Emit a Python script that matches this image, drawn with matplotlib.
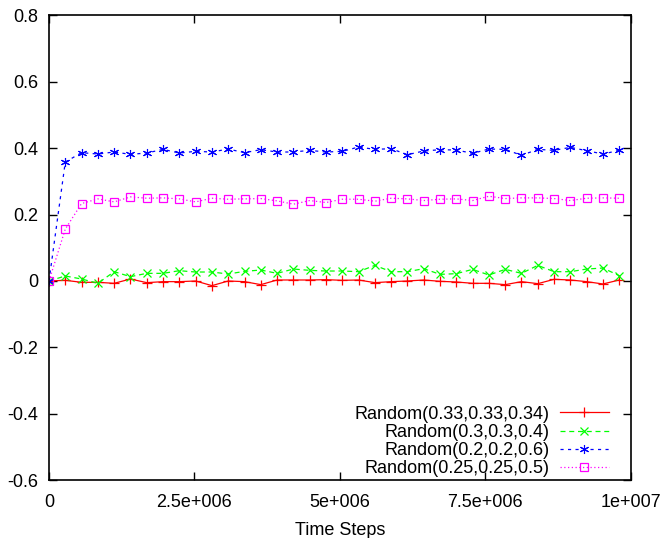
import matplotlib
matplotlib.use('Agg')
import matplotlib.pyplot as plt
from matplotlib.ticker import FixedLocator

plt.rcParams['font.family'] = ['Liberation Sans', 'DejaVu Sans']

# sample steps (one point every 280000 steps)
steps = [i * 280000 for i in range(36)]

r_033 = [0.0, 0.002, -0.004, -0.004, -0.007, 0.006, -0.005, -0.002, -0.002, 0.0,
         -0.014, 0.0, -0.002, -0.011, 0.003, 0.003, 0.003, 0.004, 0.002, 0.003,
         -0.005, -0.002, 0.0, 0.003, -0.001, -0.003, -0.007, -0.007, -0.011, -0.002,
         -0.008, 0.005, 0.003, -0.002, -0.009, 0.003]
r_03 = [0.0, 0.015, 0.006, -0.007, 0.028, 0.013, 0.023, 0.023, 0.031, 0.027,
        0.027, 0.021, 0.029, 0.033, 0.023, 0.036, 0.032, 0.030, 0.030, 0.028,
        0.047, 0.028, 0.028, 0.037, 0.020, 0.022, 0.035, 0.018, 0.035, 0.023,
        0.047, 0.028, 0.028, 0.036, 0.039, 0.016]
r_02 = [0.0, 0.358, 0.386, 0.382, 0.388, 0.381, 0.385, 0.396, 0.385, 0.390,
        0.388, 0.397, 0.386, 0.395, 0.388, 0.388, 0.393, 0.388, 0.390, 0.403,
        0.396, 0.398, 0.380, 0.391, 0.395, 0.394, 0.384, 0.397, 0.396, 0.378,
        0.396, 0.393, 0.402, 0.392, 0.382, 0.393]
r_025 = [0.0, 0.156, 0.233, 0.247, 0.238, 0.253, 0.249, 0.250, 0.247, 0.238,
         0.249, 0.246, 0.247, 0.248, 0.241, 0.231, 0.242, 0.236, 0.246, 0.246,
         0.240, 0.249, 0.247, 0.242, 0.246, 0.247, 0.242, 0.255, 0.248, 0.250,
         0.250, 0.248, 0.242, 0.249, 0.250, 0.249]

labels = ['Random(0.33,0.33,0.34)', 'Random(0.3,0.3,0.4)',
          'Random(0.2,0.2,0.6)', 'Random(0.25,0.25,0.5)']
xticks = [0, 2.5e6, 5e6, 7.5e6, 1e7]
xticklabels = ['0', '2.5e+006', '5e+006', '7.5e+006', '1e+007']
yticks = [-0.6, -0.4, -0.2, 0, 0.2, 0.4, 0.6, 0.8]
yticklabels = ['-0.6', '-0.4', '-0.2', '0', '0.2', '0.4', '0.6', '0.8']

fig = plt.figure(figsize=(6.62, 5.38), dpi=100)
ax = fig.add_axes([0.074, 0.107, 0.879, 0.865])

ax.plot(steps, r_033, color='#ff0000', ls='-', lw=0.9, marker='+', ms=7, mew=0.9, label=labels[0])
ax.plot(steps, r_03, color='#00ff00', ls=(0, (4, 3)), lw=0.9, marker='x', ms=6, mew=0.9, label=labels[1])
ax.plot(steps, r_02, color='#0000ff', ls=(0, (2.5, 3.5)), lw=0.9, marker=(6, 2, 0), ms=6.5, mew=0.8, label=labels[2])
ax.plot(steps, r_025, color='#ff00ff', ls=(0, (1, 2)), lw=0.9, marker='s', ms=6, mew=0.9,
        fillstyle='none', label=labels[3])

ax.set_xlim(0, 1e7)
ax.set_ylim(-0.6, 0.8)
ax.xaxis.set_major_locator(FixedLocator(xticks))
ax.set_xticklabels(xticklabels)
ax.yaxis.set_major_locator(FixedLocator(yticks))
ax.set_yticklabels(yticklabels)
ax.tick_params(direction='in', length=6, width=1, top=True, right=True, labelsize=13)
ax.tick_params(axis='x', pad=10)
ax.tick_params(axis='y', pad=8)
for s in ax.spines.values():
    s.set_linewidth(1.2)
ax.set_xlabel('Time Steps', fontsize=13, labelpad=8)

ax.legend(loc='lower right', bbox_to_anchor=(0.974, -0.009), frameon=False,
          markerfirst=False, fontsize=13, handlelength=2.7, handletextpad=0.55,
          labelspacing=0.07, borderaxespad=0)

fig.savefig('out.png', dpi=100)
